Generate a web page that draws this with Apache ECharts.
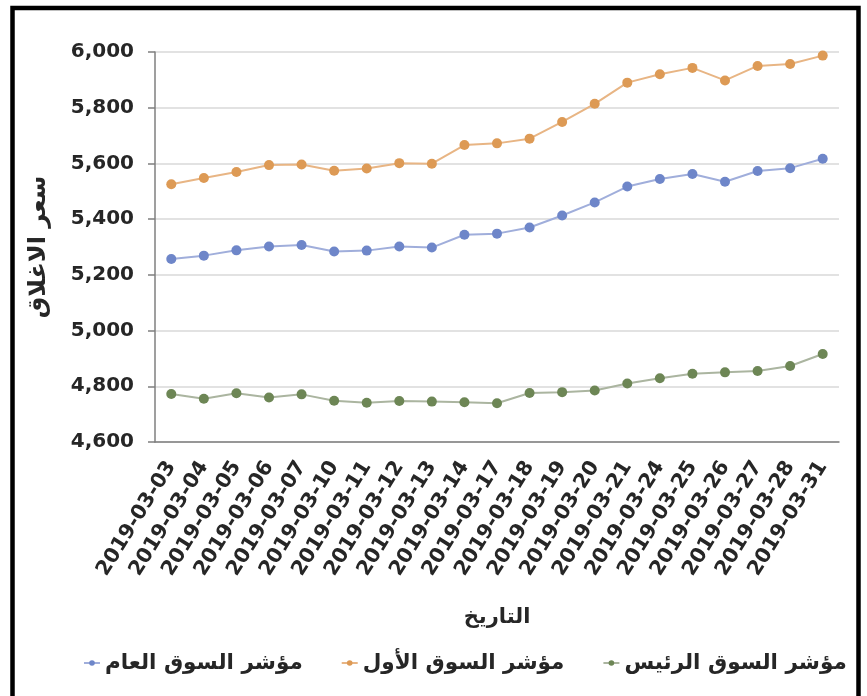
<!DOCTYPE html>
<html>
<head>
<meta charset="utf-8">
<script src="https://cdn.jsdelivr.net/npm/echarts@6/dist/echarts.min.js"></script>
<style>
html,body{margin:0;padding:0;background:#fff;}
#chart{width:867px;height:696px;}
</style>
</head>
<body>
<div id="chart"></div>
<script>
const dates = ['2019-03-03','2019-03-04','2019-03-05','2019-03-06','2019-03-07','2019-03-10','2019-03-11','2019-03-12','2019-03-13','2019-03-14','2019-03-17','2019-03-18','2019-03-19','2019-03-20','2019-03-21','2019-03-24','2019-03-25','2019-03-26','2019-03-27','2019-03-28','2019-03-31'];
const generalIndex = [5257,5269,5288,5302,5307,5284,5287,5302,5298,5344,5348,5370,5413,5460,5517,5544,5562,5534,5573,5583,5617];
const firstMarketIndex = [5525,5548,5569,5594,5596,5574,5582,5601,5599,5666,5672,5689,5749,5814,5890,5920,5943,5898,5950,5957,5987];
const mainMarketIndex = [4772,4755,4775,4760,4771,4748,4741,4747,4745,4743,4739,4776,4779,4785,4810,4829,4845,4850,4855,4873,4916];
const seriesNames = ['مؤشر السوق العام','مؤشر السوق الأول','مؤشر السوق الرئيس'];
const yAxisTitle = 'سعر الاغلاق';
const xAxisTitle = 'التاريخ';

const FONT = '"DejaVu Sans", sans-serif';
const chart = echarts.init(document.getElementById('chart'), null, {renderer:'canvas'});

function mk(name, data, color, lineColor){
  return {
    name: name, type:'line', data: data,
    symbol:'circle', symbolSize:10, showSymbol:true,
    itemStyle:{color:color},
    lineStyle:{color:lineColor, width:2},
    emphasis:{disabled:true},
    animation:false
  };
}

chart.setOption({
  animation:false,
  backgroundColor:'#fff',
  grid:{left:155, right:28, top:52, bottom:254, containLabel:false},
  legend:{
    data: seriesNames,
    top: 647, left:78, width:785,
    itemWidth:16, itemHeight:7, itemGap:38,
    textStyle:{fontFamily:FONT, fontWeight:'bold', fontSize:21.5, color:'#262626'}
  },
  xAxis:{
    type:'category', data:dates, boundaryGap:true,
    name:xAxisTitle, nameLocation:'middle', nameGap:165,
    nameTextStyle:{fontFamily:FONT, fontWeight:'bold', fontSize:21, color:'#262626'},
    axisLine:{lineStyle:{color:'#7f7f7f', width:1.5}},
    axisTick:{alignWithLabel:true, length:8, lineStyle:{color:'#7f7f7f', width:1.5}},
    axisLabel:{rotate:58, interval:0, margin:21, fontFamily:FONT, fontWeight:'bold', fontSize:20.5, color:'#262626'},
    splitLine:{show:false}
  },
  yAxis:{
    type:'value', min:4600, max:6000, interval:200,
    name:yAxisTitle, nameLocation:'middle', nameGap:104, nameRotate:90,
    nameTextStyle:{fontFamily:FONT, fontWeight:'bold', fontSize:24, color:'#262626'},
    axisLine:{show:true, lineStyle:{color:'#7f7f7f', width:1.5}},
    axisTick:{show:true, length:7, lineStyle:{color:'#7f7f7f', width:1.5}},
    axisLabel:{margin:21, fontFamily:FONT, fontWeight:'bold', fontSize:20, color:'#262626',
      formatter:function(v){return v.toLocaleString('en-US');}},
    splitLine:{lineStyle:{color:'#d9d9d9', width:1.5}}
  },
  graphic:[{
    type:'rect', silent:true, z:100,
    shape:{x:12.5, y:8, width:846, height:720},
    style:{fill:'none', stroke:'#000', lineWidth:4.5}
  }],
  series:[
    mk(seriesNames[0], generalIndex, '#6e86c9', '#a0aedb'),
    mk(seriesNames[1], firstMarketIndex, '#dd9a55', '#e8b584'),
    mk(seriesNames[2], mainMarketIndex, '#6d8655', '#abb5a0')
  ]
});
</script>
</body>
</html>
